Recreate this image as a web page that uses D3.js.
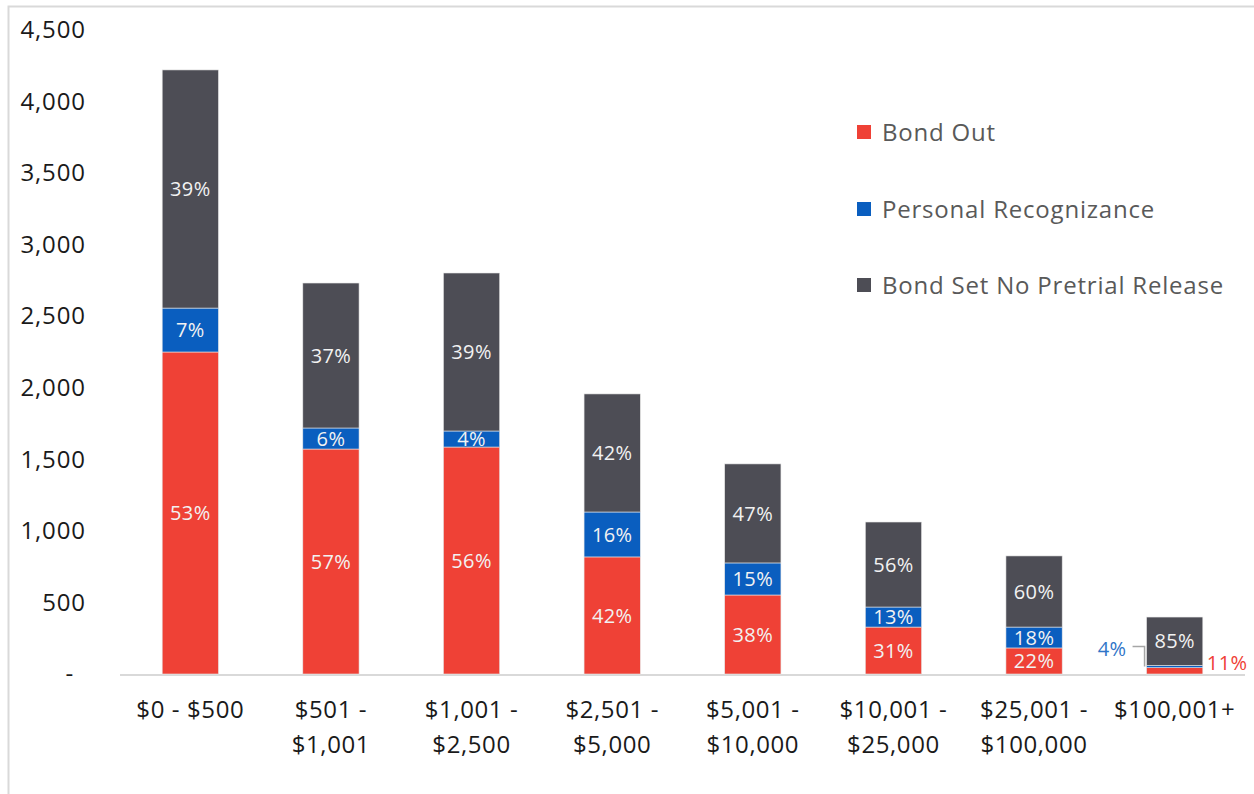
<!DOCTYPE html>
<html><head><meta charset="utf-8">
<script src="https://cdn.jsdelivr.net/npm/d3@7"></script>
<style>body{margin:0;background:#fff}svg{display:block}text{font-family:"Open Sans",sans-serif}</style>
</head><body><svg id="c" width="1254" height="794"></svg>
<script>
const categories = [["$0 - $500"],["$501 -","$1,001"],["$1,001 -","$2,500"],["$2,501 -","$5,000"],["$5,001 -","$10,000"],["$10,001 -","$25,000"],["$25,001 -","$100,000"],["$100,001+"]];
const seriesNames = ["Bond Out","Personal Recognizance","Bond Set No Pretrial Release"];
const bondOut = [2250,1572,1586,818,552,328,182,44];
const personalRecog = [307,147,112,314,224,140,146,16];
const noRelease = [1664,1013,1104,825,692,594,497,338];
const pctLabels = [
  ["53%","57%","56%","42%","38%","31%","22%","11%"],
  ["7%","6%","4%","16%","15%","13%","18%","4%"],
  ["39%","37%","39%","42%","47%","56%","60%","85%"]
];
const yTicks = [0,500,1000,1500,2000,2500,3000,3500,4000,4500];
const colors = ["#EF4136","#0A5EBF","#4D4D55"];

const svg = d3.select("#c");
svg.append("path").attr("d","M8.5,794 V6.5 H1254").attr("fill","none").attr("stroke","#D9D9D9").attr("stroke-width",2);

const x = d3.scaleBand().domain(d3.range(categories.length)).range([120,1245]).paddingInner(0.6).paddingOuter(0.3);
const y = d3.scaleLinear().domain([0,4500]).range([674,30]);

const data = categories.map((c,i)=>({i, v:[bondOut[i],personalRecog[i],noRelease[i]]}));
const stack = d3.stack().keys([0,1,2]).value((d,k)=>d.v[k])(data);

const fmt = d3.format(",");
const yAxis = d3.axisLeft(y).tickValues(yTicks).tickSize(0).tickPadding(0).tickFormat(d=>d===0?"-":fmt(d));
const ya = svg.append("g").attr("transform","translate(86,0)").call(yAxis);
ya.select(".domain").remove();
ya.selectAll("text").attr("font-size",24).attr("letter-spacing",0.9).attr("fill","#1a1a1a").attr("font-family","Open Sans");
ya.selectAll(".tick").filter(d=>d===0).select("text").attr("dx",-12);

svg.append("line").attr("x1",120).attr("x2",1245).attr("y1",y(0)+1).attr("y2",y(0)+1).attr("stroke","#D9D9D9").attr("stroke-width",2);

stack.forEach((s,k)=>{
  svg.append("g").selectAll("rect").data(s).join("rect")
    .attr("x",d=>x(d.data.i)).attr("width",x.bandwidth())
    .attr("y",d=>y(d[1])).attr("height",d=>y(d[0])-y(d[1]))
    .attr("fill",colors[k]).attr("stroke","#E6E6E6").attr("stroke-width",0.6);
});

stack.forEach((s,k)=>{
  svg.append("g").selectAll("text").data(s.filter(d=>d.data.i<7 || k===2)).join("text")
    .attr("x",d=>x(d.data.i)+x.bandwidth()/2)
    .attr("y",d=>(y(d[0])+y(d[1]))/2)
    .attr("dy","0.36em").attr("text-anchor","middle")
    .attr("font-size",20).attr("letter-spacing",0.4).attr("fill","#F2F2F2")
    .text(d=>pctLabels[k][d.data.i]);
});
const li = 7, lx = x(li);
const blueMid = (y(stack[1][li][0])+y(stack[1][li][1]))/2;
svg.append("path").attr("d",`M${lx-14},${blueMid-20} H${lx-2} V${blueMid}`).attr("fill","none").attr("stroke","#A6A6A6").attr("stroke-width",1.5);
svg.append("text").attr("x",lx-20).attr("y",blueMid-18).attr("dy","0.36em").attr("text-anchor","end")
  .attr("font-size",20).attr("letter-spacing",0.4).attr("fill","#2F75C8").text(pctLabels[1][li]);
svg.append("text").attr("x",lx+x.bandwidth()+4).attr("y",(y(stack[0][li][0])+y(stack[0][li][1]))/2-8).attr("dy","0.36em")
  .attr("font-size",20).attr("letter-spacing",0.4).attr("fill","#EF4136").text(pctLabels[0][li]);

const xl = svg.append("g");
categories.forEach((c,i)=>{
  const t = xl.append("text").attr("x",x(i)+x.bandwidth()/2).attr("y",718).attr("text-anchor","middle").attr("font-size",24).attr("letter-spacing",0.6).attr("fill","#1a1a1a");
  c.forEach((line,j)=>t.append("tspan").attr("x",x(i)+x.bandwidth()/2).attr("dy",j?35:0).text(line));
});

const lg = svg.append("g");
seriesNames.forEach((n,k)=>{
  const cy = [132,209,285][k];
  lg.append("rect").attr("x",857).attr("y",cy-7).attr("width",14).attr("height",14).attr("fill",colors[k]);
  lg.append("text").attr("x",882).attr("y",cy).attr("dy","0.36em").attr("font-size",24).attr("letter-spacing",0.8).attr("fill","#595959").text(n);
});
</script></body></html>
